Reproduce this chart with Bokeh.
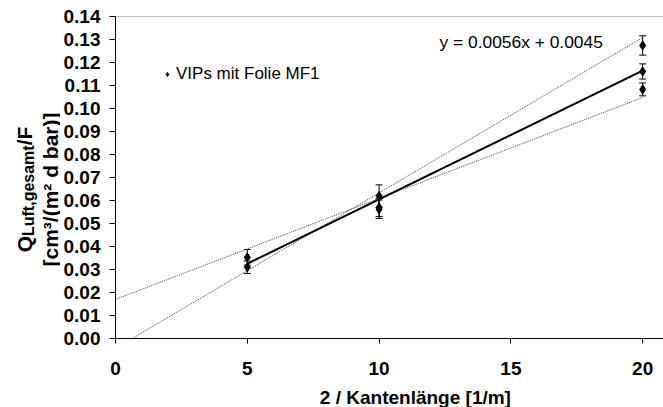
import numpy as np
from bokeh.plotting import figure
from bokeh.layouts import row, column
from bokeh.models import (Range1d, ColumnDataSource, Whisker, TeeHead, Label, Span,
                          Legend, LegendItem, FixedTicker, NumeralTickFormatter)
from bokeh.core.properties import value
from bokeh.embed import file_html
from bokeh.resources import INLINE

# ---- data ----
x_vals = [5, 5, 10, 10, 10, 20, 20, 20]
y_vals = [0.0353, 0.0310, 0.0620, 0.0570, 0.0562, 0.1274, 0.1161, 0.1083]
y_err = [0.0034, 0.0027, 0.0048, 0.0040, 0.0040, 0.0042, 0.0033, 0.0028]

trend_slope = 0.0056
trend_intercept = 0.0045
trend_x = [5, 20]

upper_x = [0, 20]
upper_y = [-0.0043, 0.1309]
lower_x = [0, 20]
lower_y = [0.0170, 0.1048]

y_ticks = [0.00, 0.01, 0.02, 0.03, 0.04, 0.05, 0.06, 0.07, 0.08, 0.09, 0.10, 0.11, 0.12, 0.13, 0.14]
x_ticks = [0, 5, 10, 15, 20]

series_label = "VIPs mit Folie MF1"
equation_text = "y = 0.0056x + 0.0045"
x_title = "2 / Kantenlänge [1/m]"
y_title_main = "Q"
y_title_sub = "Luft,gesamt"
y_title_tail = "/F"
y_title_line2 = "[cm³/(m² d bar)]"

FONT = "Liberation Sans"
W = 663
H = 407
LEFT_W = 60
BOTTOM_H = 22


def strip(width, height, xr, yr):
    f = figure(width=width, height=height, output_backend="svg", toolbar_location=None,
               x_range=Range1d(*xr), y_range=Range1d(*yr),
               x_axis_location=None, y_axis_location=None, title=None,
               min_border_left=0, min_border_right=0, min_border_top=0, min_border_bottom=0)
    f.grid.visible = False
    f.outline_line_color = None
    f.background_fill_color = "white"
    f.border_fill_color = "white"
    return f


p = figure(width=W - LEFT_W, height=H - BOTTOM_H, output_backend="svg", toolbar_location=None,
           x_range=Range1d(0, 20.79), y_range=Range1d(0, 0.14),
           min_border_left=113 - LEFT_W, min_border_right=0, min_border_top=16,
           min_border_bottom=H - BOTTOM_H - 338)
p.outline_line_color = None
p.grid.visible = False
p.background_fill_color = "white"
p.border_fill_color = "white"

for ax in (p.xaxis[0], p.yaxis[0]):
    ax.axis_line_color = "black"
    ax.axis_line_width = 1
    ax.major_tick_line_color = "black"
    ax.minor_tick_line_color = None
    ax.major_tick_in = 0
    ax.major_label_text_font = FONT
    ax.major_label_text_font_style = "bold"
    ax.major_label_text_font_size = "19px"
    ax.major_label_text_color = "black"

p.xaxis.ticker = FixedTicker(ticks=x_ticks)
p.xaxis.major_tick_out = 5
p.xaxis.major_label_standoff = 18

p.yaxis.ticker = FixedTicker(ticks=y_ticks)
p.yaxis.formatter = NumeralTickFormatter(format="0.00")
p.yaxis.major_tick_out = 6
p.yaxis.major_label_standoff = 9

# top border line
p.add_layout(Span(location=0.14, dimension="width", line_color="#8a8a8a", line_width=1))

# dotted bounding lines
p.line(upper_x, upper_y, line_color="#444444", line_width=1, line_dash="1 1")
p.line(lower_x, lower_y, line_color="#444444", line_width=1, line_dash="1 1")

# trend line
trend_y = [trend_slope * xv + trend_intercept for xv in trend_x]
p.line(trend_x, trend_y, line_color="black", line_width=2)

# error bars + points
src = ColumnDataSource(dict(x=x_vals, y=y_vals,
                            upper=[a + b for a, b in zip(y_vals, y_err)],
                            lower=[a - b for a, b in zip(y_vals, y_err)]))
p.add_layout(Whisker(source=src, base="x", upper="upper", lower="lower",
                     line_color="black", line_width=1,
                     upper_head=TeeHead(size=7, line_color="black", line_width=1),
                     lower_head=TeeHead(size=7, line_color="black", line_width=1)))
pts = p.scatter("x", "y", source=src, marker="diamond", size=9,
                fill_color="black", line_color="black")

legend = Legend(items=[LegendItem(label=series_label, renderers=[pts])],
                location=(47, 254), orientation="vertical",
                label_text_font=FONT, label_text_font_size="17px",
                label_text_color="black",
                glyph_width=10, glyph_height=12, label_standoff=4,
                padding=0, margin=0, spacing=0,
                border_line_color=None, background_fill_alpha=0)
p.add_layout(legend)

p.add_layout(Label(x=12.29, y=0.1291, text=equation_text,
                   text_font=FONT, text_font_size="17.4px", text_color="black",
                   text_baseline="middle", text_align="left"))

# ---- left strip: rotated y-axis title (coordinates = page pixels, y flipped) ----
t = strip(LEFT_W, H, (0, LEFT_W), (0, H))
ang = np.pi / 2
center_py = 189
big, small = 21, 16
w_q, w_sub, w_tail = 0.778 * big, 5.667 * small, 0.889 * big
start_py = center_py + (w_q + w_sub + w_tail) / 2
t.text(x=[24], y=[H - start_py], text=[y_title_main], angle=ang,
       text_font=value(FONT), text_font_size=f"{big}px", text_font_style="bold",
       text_align="left", text_baseline="alphabetic", text_color="black")
t.text(x=[28], y=[H - (start_py - w_q)], text=[y_title_sub], angle=ang,
       text_font=value(FONT), text_font_size=f"{small}px", text_font_style="bold",
       text_align="left", text_baseline="alphabetic", text_color="black")
t.text(x=[24], y=[H - (start_py - w_q - w_sub)], text=[y_title_tail], angle=ang,
       text_font=value(FONT), text_font_size=f"{big}px", text_font_style="bold",
       text_align="left", text_baseline="alphabetic", text_color="black")
t.text(x=[50], y=[H - center_py], text=[y_title_line2], angle=ang,
       text_font=value(FONT), text_font_size=f"{big}px", text_font_style="bold",
       text_align="center", text_baseline="alphabetic", text_color="black")

# ---- bottom strip: x-axis title ----
b = strip(W - LEFT_W, BOTTOM_H, (0, W - LEFT_W), (0, BOTTOM_H))
b.text(x=[390 - LEFT_W], y=[10], text=[x_title],
       text_font=value(FONT), text_font_size="19px", text_font_style="bold",
       text_align="center", text_baseline="alphabetic", text_color="black")

layout = row(t, column(p, b))
open("out.html", "w").write(file_html(layout, INLINE))
